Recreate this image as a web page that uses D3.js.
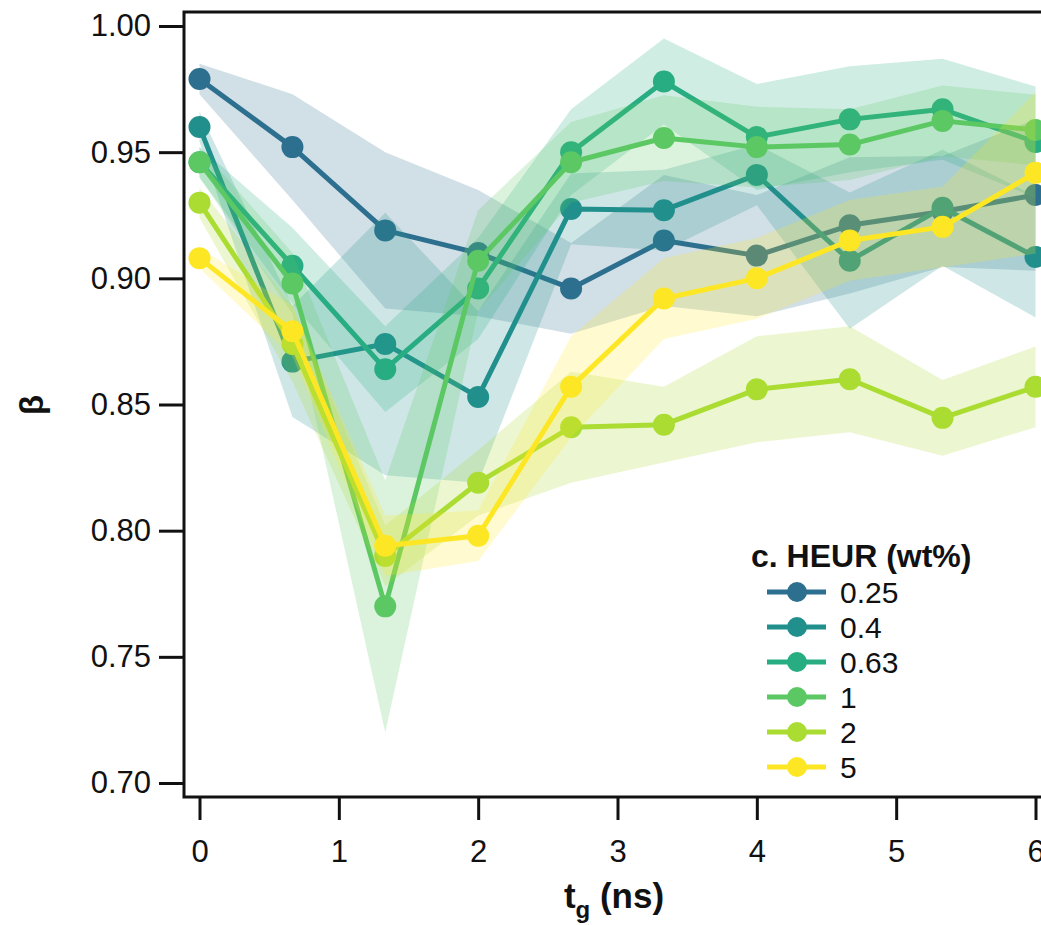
<!DOCTYPE html>
<html>
<head>
<meta charset="utf-8">
<script src="https://cdn.jsdelivr.net/npm/d3@7"></script>
<style>
  html, body { margin: 0; padding: 0; background: #fff; overflow: hidden; }
  svg { display: block; font-family: "Liberation Sans", Arial, Helvetica, sans-serif; }
</style>
</head>
<body>
<svg id="chart" width="1041" height="925"></svg>
<script>
// gelation time points (ns)
const tg = [0, 0.667, 1.333, 2, 2.667, 3.333, 4, 4.667, 5.333, 6];

// HEUR concentrations (wt%) shown in the legend
const concLabels = ["0.25", "0.4", "0.63", "1", "2", "5"];

// mean stretching exponent beta per concentration
const beta025 = [0.979, 0.952, 0.919, 0.910, 0.896, 0.915, 0.909, 0.921, 0.9265, 0.933];
const beta04  = [0.960, 0.867, 0.874, 0.853, 0.9275, 0.927, 0.941, 0.907, 0.928, 0.9085];
const beta063 = [0.946, 0.905, 0.864, 0.896, 0.950, 0.978, 0.956, 0.963, 0.967, 0.954];
const beta1   = [0.946, 0.898, 0.770, 0.907, 0.946, 0.9556, 0.952, 0.953, 0.9624, 0.9588];
const beta2   = [0.930, 0.874, 0.790, 0.819, 0.841, 0.842, 0.856, 0.860, 0.8447, 0.857];
const beta5   = [0.908, 0.879, 0.794, 0.798, 0.857, 0.892, 0.900, 0.915, 0.9204, 0.9418];

// standard deviation of beta (shaded bands)
const sd025 = [0.006, 0.021, 0.031, 0.025, 0.018, 0.026, 0.024, 0.027, 0.022, 0.030];
const sd04  = [0.006, 0.022, 0.052, 0.034, 0.014, 0.016, 0.012, 0.027, 0.023, 0.024];
const sd063 = [0.006, 0.015, 0.017, 0.020, 0.017, 0.017, 0.021, 0.021, 0.020, 0.022];
const sd1   = [0.006, 0.012, 0.050, 0.020, 0.016, 0.017, 0.016, 0.014, 0.014, 0.014];
const sd2   = [0.006, 0.015, 0.012, 0.013, 0.022, 0.015, 0.021, 0.021, 0.015, 0.016];
const sd5   = [0.004, 0.010, 0.012, 0.010, 0.020, 0.016, 0.016, 0.016, 0.016, 0.032];

const colors = ["#2d6f8e", "#21908d", "#27ad81", "#5cc863", "#aadc32", "#fde725"];

const xTicks = [0, 1, 2, 3, 4, 5, 6];
const yTicks = [0.70, 0.75, 0.80, 0.85, 0.90, 0.95, 1.00];

const means = [beta025, beta04, beta063, beta1, beta2, beta5];
const sds = [sd025, sd04, sd063, sd1, sd2, sd5];
const series = concLabels.map((c, i) => ({
  label: c,
  color: colors[i],
  pts: tg.map((t, j) => ({ t, m: means[i][j], s: sds[i][j] }))
}));

const svg = d3.select("#chart");

// plot frame
const frame = { left: 184, right: 1051, top: 12, bottom: 797 };
const x = d3.scaleLinear().domain([0, 6]).range([199.5, 1035.5]);
const y = d3.scaleLinear().domain([0.70, 1.00]).range([783, 26]);

const plot = svg.append("g");

const area = d3.area()
  .x(d => x(d.t))
  .y0(d => y(d.m - d.s))
  .y1(d => y(d.m + d.s));
const line = d3.line()
  .x(d => x(d.t))
  .y(d => y(d.m));

// each concentration: band, then line, then markers
series.forEach(s => {
  const g = plot.append("g");
  g.append("path")
    .datum(s.pts)
    .attr("d", area)
    .attr("fill", s.color)
    .attr("fill-opacity", 0.22)
    .attr("stroke", "none");
  g.append("path")
    .datum(s.pts)
    .attr("d", line)
    .attr("fill", "none")
    .attr("stroke", s.color)
    .attr("stroke-width", 5)
    .attr("stroke-linejoin", "round");
  g.selectAll("circle")
    .data(s.pts)
    .join("circle")
    .attr("cx", d => x(d.t))
    .attr("cy", d => y(d.m))
    .attr("r", 11)
    .attr("fill", s.color);
});

// frame
svg.append("rect")
  .attr("x", frame.left)
  .attr("y", frame.top)
  .attr("width", frame.right - frame.left)
  .attr("height", frame.bottom - frame.top)
  .attr("fill", "none")
  .attr("stroke", "#111")
  .attr("stroke-width", 3);

// y axis
const yAxis = svg.append("g")
  .attr("transform", `translate(${frame.left},0)`)
  .call(d3.axisLeft(y).tickValues(yTicks).tickFormat(d3.format(".2f")).tickSize(25).tickPadding(8));
yAxis.select(".domain").remove();
yAxis.selectAll(".tick line").attr("stroke", "#111").attr("stroke-width", 3);
yAxis.selectAll(".tick text")
  .attr("fill", "#111")
  .style("font-size", "31px")
  .style("font-family", "'Liberation Sans', Arial, sans-serif");

// x axis
const xAxis = svg.append("g")
  .attr("transform", `translate(0,${frame.bottom})`)
  .call(d3.axisBottom(x).tickValues(xTicks).tickFormat(d3.format("d")).tickSize(23).tickPadding(20));
xAxis.select(".domain").remove();
xAxis.selectAll(".tick line").attr("stroke", "#111").attr("stroke-width", 3);
xAxis.selectAll(".tick text")
  .attr("fill", "#111")
  .style("font-size", "31px")
  .style("font-family", "'Liberation Sans', Arial, sans-serif");

// axis titles
svg.append("text")
  .attr("transform", "translate(31,405) rotate(-90)")
  .attr("text-anchor", "middle")
  .attr("dominant-baseline", "central")
  .style("font-size", "33px")
  .style("font-weight", "bold")
  .attr("fill", "#111")
  .text("β");

const xt = svg.append("text")
  .attr("x", 614)
  .attr("y", 908)
  .attr("text-anchor", "middle")
  .style("font-size", "35px")
  .style("font-weight", "bold")
  .attr("fill", "#111");
xt.append("tspan").text("t");
xt.append("tspan").attr("dy", 10).style("font-size", "24px").text("g");
xt.append("tspan").attr("dy", -10).text(" (ns)");

// legend
const lg = svg.append("g").attr("transform", "translate(763,0)");
lg.append("text")
  .attr("x", -12)
  .attr("y", 567)
  .style("font-size", "32px")
  .style("font-weight", "bold")
  .attr("fill", "#111")
  .text("c. HEUR (wt%)");
const items = lg.selectAll("g.item")
  .data(series)
  .join("g")
  .attr("class", "item")
  .attr("transform", (d, i) => `translate(0,${592 + i * 35})`);
items.append("line")
  .attr("x1", 4).attr("x2", 63)
  .attr("y1", 0).attr("y2", 0)
  .attr("stroke", d => d.color)
  .attr("stroke-width", 5);
items.append("circle")
  .attr("cx", 34).attr("cy", 0).attr("r", 10)
  .attr("fill", d => d.color);
items.append("text")
  .attr("x", 77)
  .attr("y", 0)
  .attr("dy", "0.35em")
  .style("font-size", "30px")
  .attr("fill", "#111")
  .text(d => d.label);
</script>
</body>
</html>
